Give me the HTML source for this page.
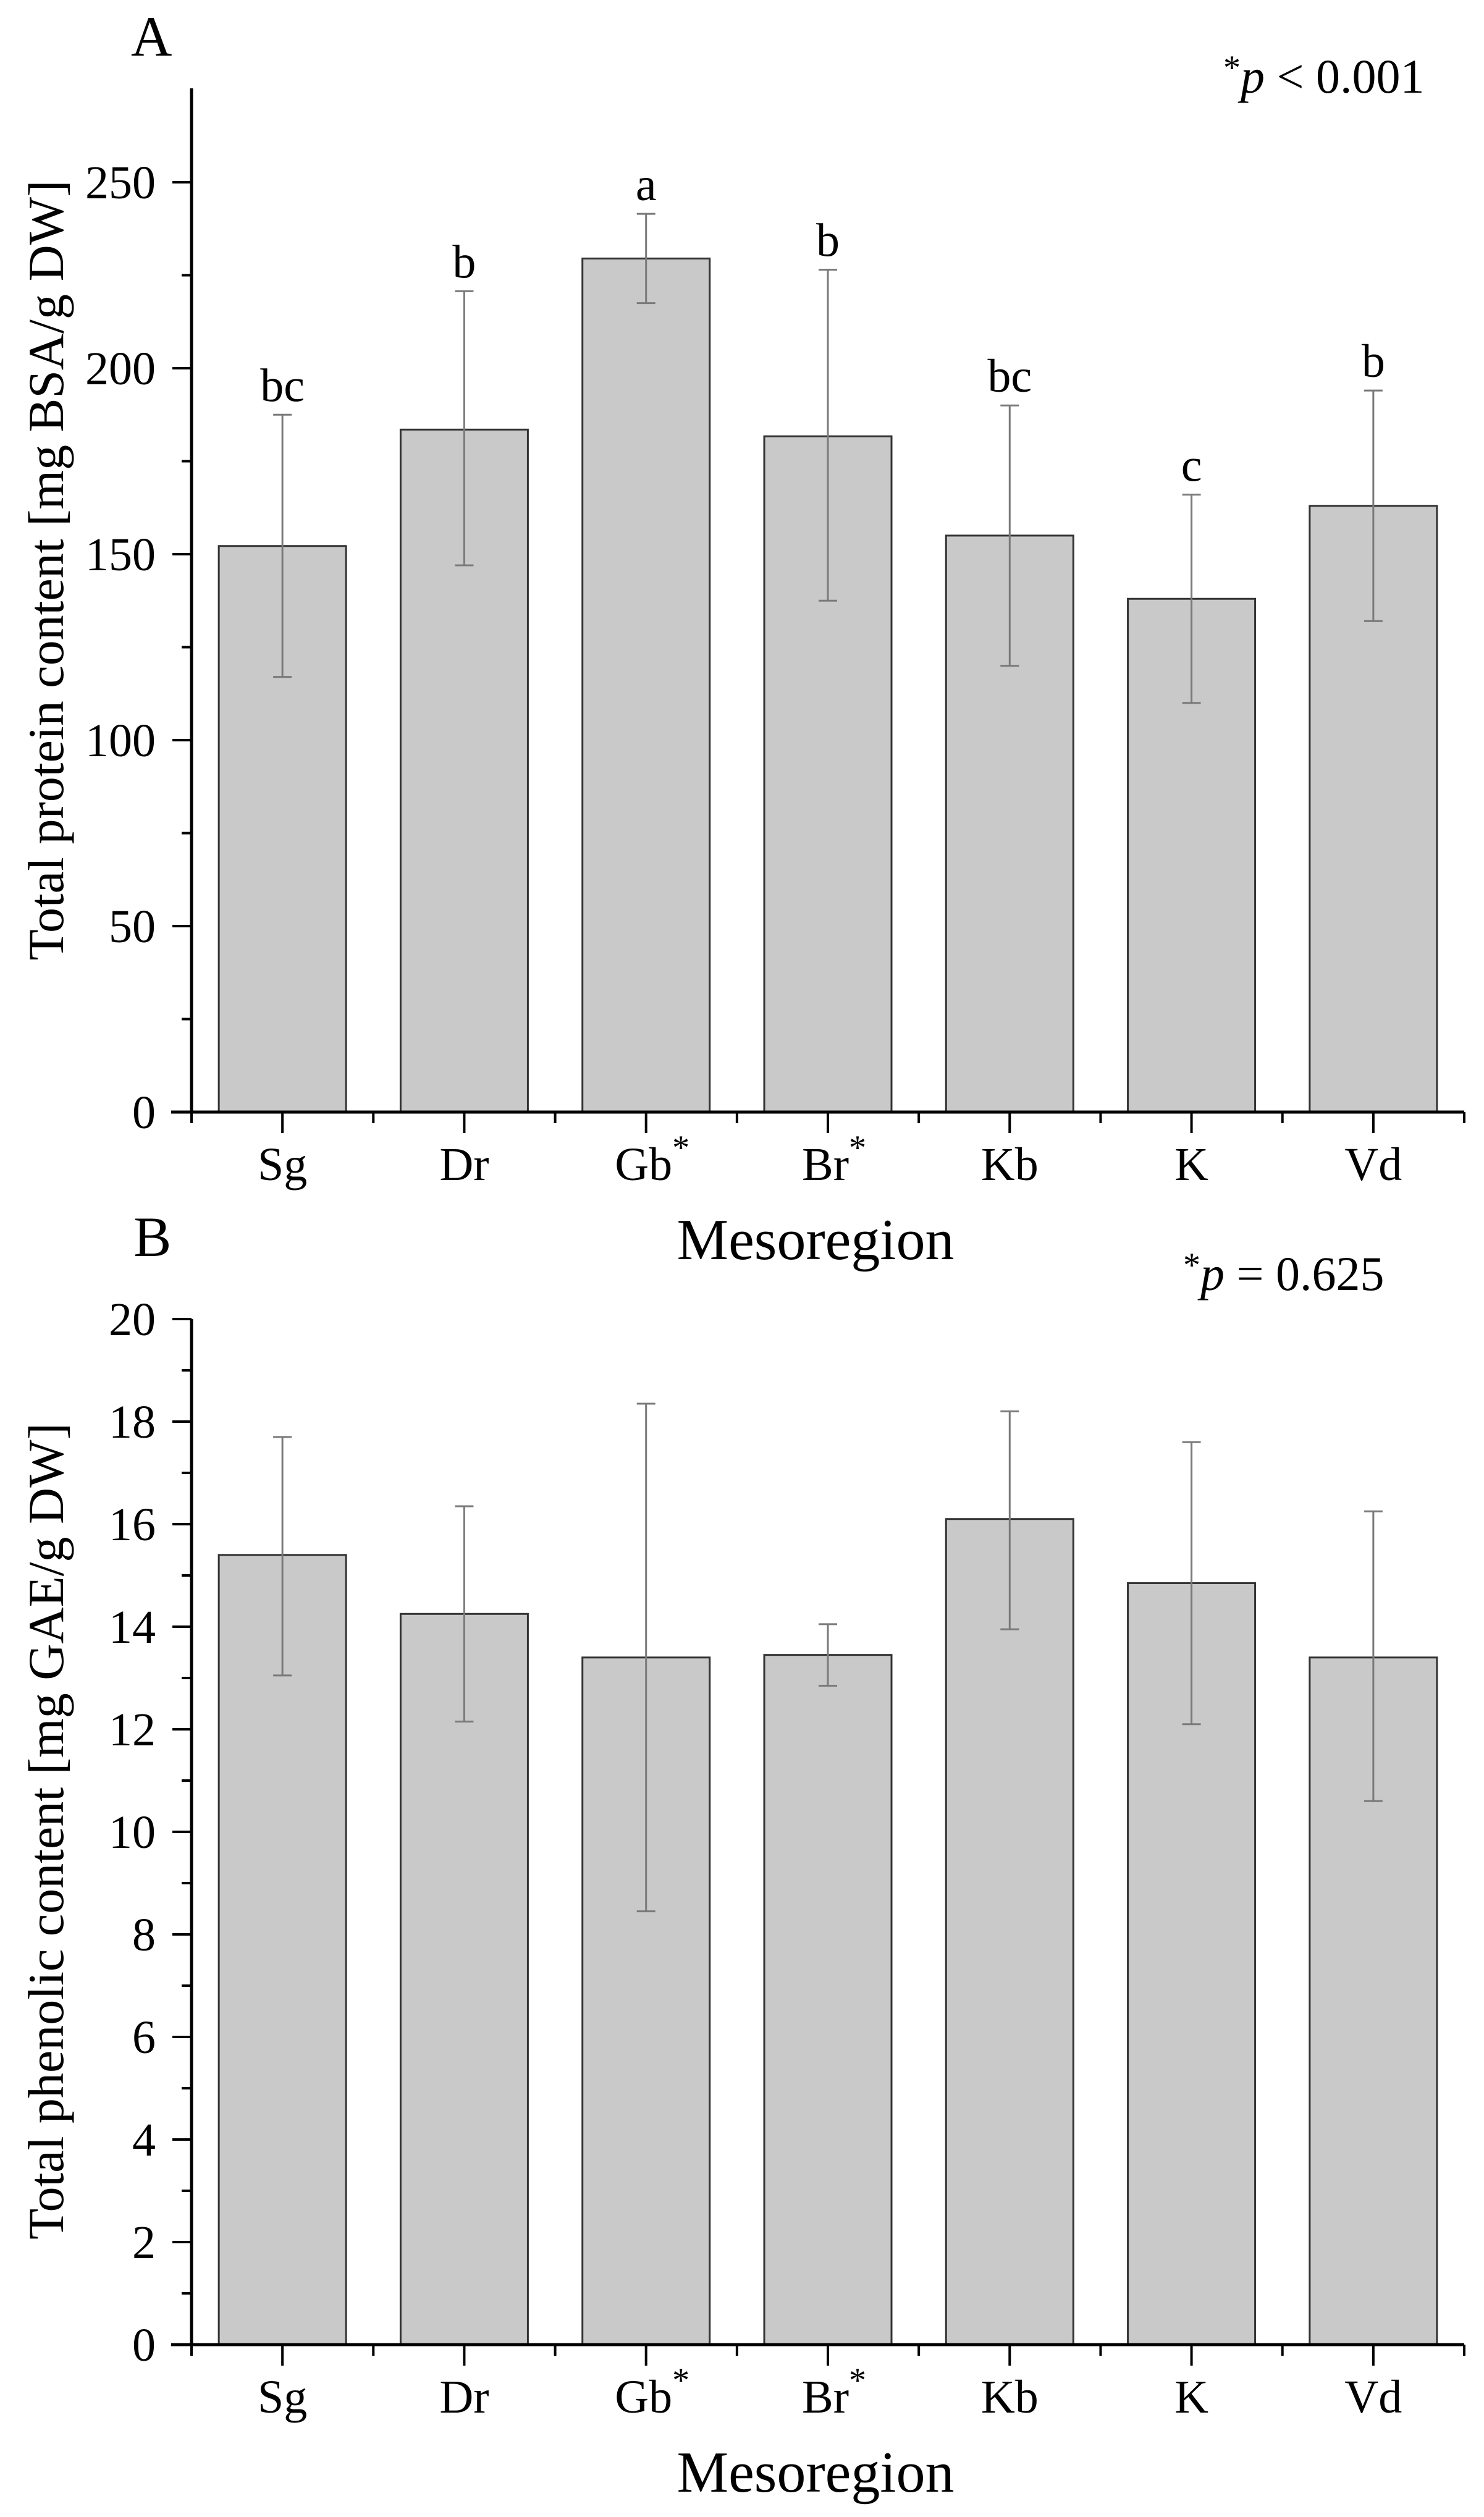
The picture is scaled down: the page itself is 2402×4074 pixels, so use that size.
<!DOCTYPE html>
<html><head><meta charset="utf-8"><style>
html,body{margin:0;padding:0;background:#fff;}
svg{display:block;font-family:"Liberation Serif",serif;}
</style></head><body>
<svg id="chart" width="2402" height="4074" viewBox="0 0 2402 4074" xmlns="http://www.w3.org/2000/svg"></svg>
<script>
const categories = ["Sg","Dr","Gb","Br","Kb","K","Vd"];
const starred = [false,false,true,true,false,false,false];
const proteinMean = [152.2,183.5,229.5,181.7,155,138,163];
const proteinHigh = [187.5,220.7,241.5,226.5,190,166,194];
const proteinLow  = [117,147,217.5,137.5,120,110,132];
const proteinLetters = ["bc","b","a","b","bc","c","b"];
const proteinTicks = [0,50,100,150,200,250];
const phenolMean = [15.4,14.25,13.4,13.45,16.1,14.85,13.4];
const phenolHigh = [17.7,16.35,18.35,14.05,18.2,17.6,16.25];
const phenolLow  = [13.05,12.15,8.45,12.85,13.95,12.1,10.6];
const phenolTicks = [0,2,4,6,8,10,12,14,16,18,20];

const NS="http://www.w3.org/2000/svg";
const svg=document.getElementById('chart');
function mk(tag,attrs,parent){const e=document.createElementNS(NS,tag);for(const k in attrs)e.setAttribute(k,attrs[k]);(parent||svg).appendChild(e);return e;}

function panel(o){
  const g=mk('g',{});
  
  
  const x0=310,x1=2370,step=(x1-x0)/categories.length;
  const y=v=>o.y0-(v-o.vmin)/(o.vmax-o.vmin)*(o.y0-o.ytop);
  const xc=i=>x0+step*(i+0.5);
  const bw=step*0.7;
  categories.forEach((c,i)=>{
    const r=mk('rect',{x:xc(i)-bw/2,y:y(o.mean[i]),width:bw,height:o.y0-y(o.mean[i]),fill:'#c9c9c9',stroke:'#333','stroke-width':3},g);
    
    
    const eb=mk('path',{d:`M${xc(i)},${y(o.high[i])}V${y(o.low[i])}M${xc(i)-15},${y(o.high[i])}H${xc(i)+15}M${xc(i)-15},${y(o.low[i])}H${xc(i)+15}`,stroke:'#7a7a7a','stroke-width':3,fill:'none'},g);
    
    
    if(o.letters){
      const t=mk('text',{x:xc(i),y:y(o.high[i])-22,'text-anchor':'middle','font-size':76},g);
      t.textContent=o.letters[i];
      
      
    }
  });
  const ax=mk('path',{d:`M${x0},${o.ytopAxis}V${o.y0}M${x0-33},${o.y0}H${x1}`,stroke:'#000','stroke-width':5,fill:'none'},g);
  
  
  o.ticks.forEach((v,k)=>{
    mk('line',{x1:x0-31,x2:x0,y1:y(v),y2:y(v),stroke:'#000','stroke-width':4},g);
    const t=mk('text',{x:252,y:y(v)+26,'text-anchor':'end','font-size':76},g);
    t.textContent=v;
    
    
    if(k<o.ticks.length-1){const m=(v+o.ticks[k+1])/2;mk('line',{x1:x0-16,x2:x0,y1:y(m),y2:y(m),stroke:'#000','stroke-width':4},g);}
  });
  for(let i=0;i<=categories.length;i++){const xx=x0+step*i;mk('line',{x1:xx,x2:xx,y1:o.y0,y2:o.y0+18,stroke:'#000','stroke-width':4},g);}
  categories.forEach((c,i)=>{
    mk('line',{x1:xc(i),x2:xc(i),y1:o.y0,y2:o.y0+34,stroke:'#000','stroke-width':4},g);
    const t=mk('text',{x:xc(i)+(starred[i]?10:0),y:o.y0+110,'text-anchor':'middle','font-size':76},g);
    t.textContent=c;
    if(starred[i]){const s=mk('tspan',{dy:-34,'font-size':56},t);s.textContent='*';}
    
    
  });
  const xt=mk('text',{x:1320,y:o.y0+238,'text-anchor':'middle','font-size':94},g);
  xt.textContent='Mesoregion';
  
  
  const yt=mk('text',{x:0,y:0,'text-anchor':'middle','font-size':82,transform:`translate(102,${o.ytitle}) rotate(-90)`},g);
  yt.textContent=o.ytext;
  
  
  const pl=mk('text',{x:o.px,y:o.py,'font-size':78},g);
  pl.innerHTML='<tspan font-size="56" dy="-22">*</tspan><tspan font-style="italic" dy="22">p</tspan> '+o.ptext;
  
  
  const pn=mk('text',{x:o.lx,y:o.ly,'font-size':92},g);
  pn.textContent=o.label;
  
  
}
panel({name:'panel-a-protein',y0:1800,vmin:0,vmax:250,ytop:295,ytopAxis:143,ticks:proteinTicks,mean:proteinMean,high:proteinHigh,low:proteinLow,letters:proteinLetters,ytext:'Total protein content [mg BSA/g DW]',ytitle:923,px:1980,py:150,ptext:'< 0.001',label:'A',lx:212,ly:90});
panel({name:'panel-b-phenolic',y0:3795,vmin:0,vmax:20,ytop:2135,ytopAxis:2135,ticks:phenolTicks,mean:phenolMean,high:phenolHigh,low:phenolLow,letters:null,ytext:'Total phenolic content [mg GAE/g DW]',ytitle:2964,px:1915,py:2088,ptext:'= 0.625',label:'B',lx:216,ly:2033});
</script>
</body></html>
